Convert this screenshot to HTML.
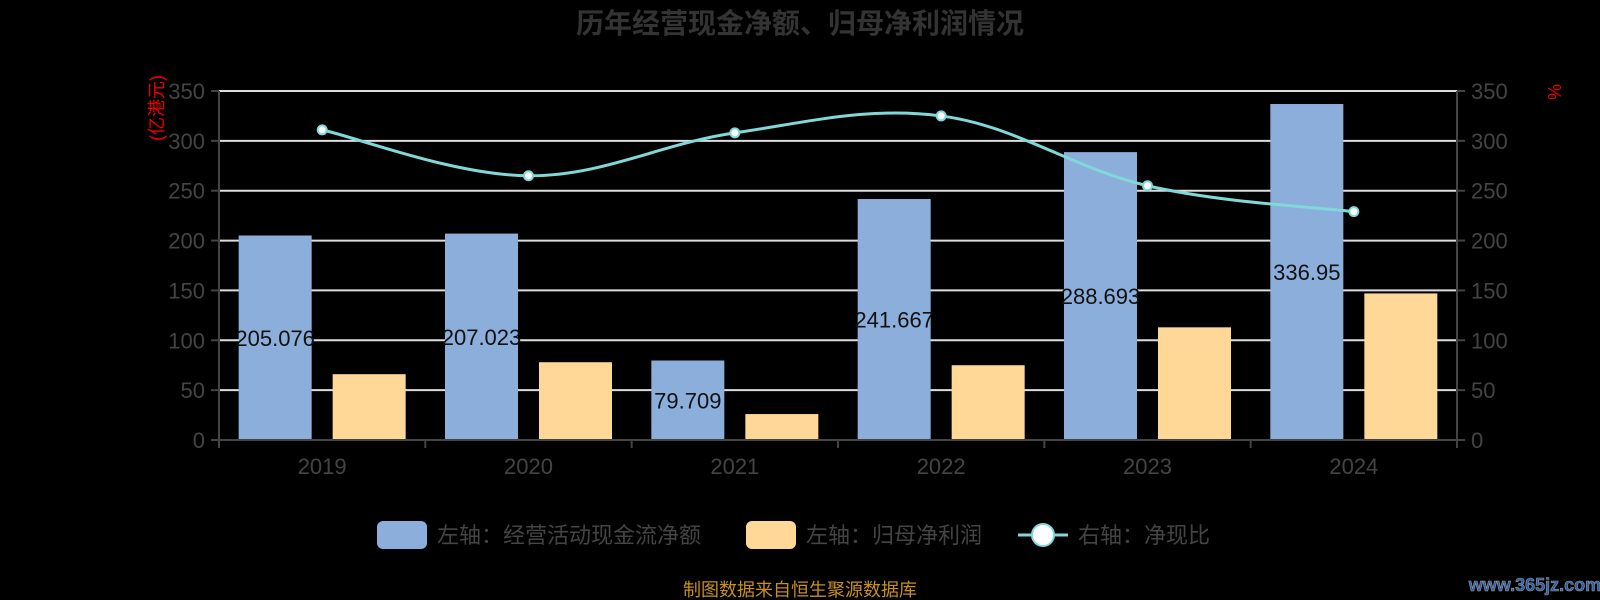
<!DOCTYPE html>
<html><head><meta charset="utf-8">
<style>
html,body{margin:0;padding:0;background:#000;width:1600px;height:600px;overflow:hidden}
svg text{font-family:"Liberation Sans","Noto Sans CJK SC",sans-serif}
</style></head>
<body>
<svg id="chart" width="1600" height="600" xmlns="http://www.w3.org/2000/svg">
<text x="800" y="33" text-anchor="middle" font-size="28" font-weight="bold" fill="#333">历年经营现金净额、归母净利润情况</text>
<g id="grid"></g>
<g id="bars"></g>
<g id="axes"></g>
<g id="line"></g>
<g id="labels"></g>
<text transform="translate(163,108) rotate(-90)" text-anchor="middle" font-size="18" fill="#e00">(亿港元)</text>
<text x="1547" y="98" font-size="18" fill="#e00" transform="rotate(-90 1555 92)">%</text>
<g>
 <g>
  <rect x="377" y="521" width="50" height="28" rx="6" fill="#8caedb"/>
  <text x="437" y="543" font-size="22" fill="#444">左轴：经营活动现金流净额</text>
 </g>
 <g>
  <rect x="746" y="521" width="50" height="28" rx="6" fill="#ffd898"/>
  <text x="806" y="543" font-size="22" fill="#444">左轴：归母净利润</text>
 </g>
 <g>
  <line x1="1018" y1="535" x2="1068" y2="535" stroke="#80d8d8" stroke-width="3"/>
  <circle cx="1043" cy="535" r="11" fill="#fff" stroke="#80d8d8" stroke-width="2"/>
  <text x="1078" y="543" font-size="22" fill="#444">右轴：净现比</text>
 </g>
</g>
<text x="800" y="596" text-anchor="middle" font-size="18" fill="#c8901a">制图数据来自恒生聚源数据库</text>
<text x="1535" y="591" text-anchor="middle" font-size="18" font-weight="bold" fill="#2a5db0" stroke="#999" stroke-width="0.6" font-family="Liberation Serif,serif">www.365jz.com</text>
</svg>
<script>
const categories = ["2019","2020","2021","2022","2023","2024"];
const cashFlow = [205.076,207.023,79.709,241.667,288.693,336.95];
const netProfit = [66,78,26,75,113,147];
const ratio = [311,265,308,325,255,229];
const yTicks = [0,50,100,150,200,250,300,350];

const NS="http://www.w3.org/2000/svg";
const X0=219,X1=1457,Y0=440,Y1=91,YMAX=350;
const band=(X1-X0)/categories.length;
function y(v){return Y0-(v/YMAX)*(Y0-Y1);}
function xc(i){return X0+band*(i+0.5);}
function mk(tag,attrs,parent,text){const e=document.createElementNS(NS,tag);for(const k in attrs)e.setAttribute(k,attrs[k]);if(text!==undefined)e.textContent=text;parent.appendChild(e);return e;}
const grid=document.getElementById('grid'),bars=document.getElementById('bars'),axes=document.getElementById('axes'),line=document.getElementById('line'),labels=document.getElementById('labels');

yTicks.forEach(t=>{
  if(t>0){const g=mk('line',{x1:X0,x2:X1,y1:y(t),y2:y(t),stroke:'#ddd','stroke-width':2},grid);
  
  }
  const l=mk('text',{x:X0-14,y:y(t)+8,'text-anchor':'end','font-size':22,fill:'#444'},axes,t);
  
  
  const r=mk('text',{x:X1+14,y:y(t)+8,'font-size':22,fill:'#444'},axes,t);
  
  
  mk('line',{x1:X0-8,x2:X0,y1:y(t),y2:y(t),stroke:'#444','stroke-width':2},axes);
  mk('line',{x1:X1,x2:X1+8,y1:y(t),y2:y(t),stroke:'#444','stroke-width':2},axes);
});
mk('line',{x1:X0,x2:X0,y1:Y1,y2:Y0,stroke:'#444','stroke-width':2},axes);
mk('line',{x1:X1,x2:X1,y1:Y1,y2:Y0,stroke:'#444','stroke-width':2},axes);
mk('line',{x1:X0,x2:X1,y1:Y0,y2:Y0,stroke:'#444','stroke-width':2},axes);
for(let i=0;i<=categories.length;i++){const xx=X0+band*i;mk('line',{x1:xx,x2:xx,y1:Y0,y2:Y0+8,stroke:'#444','stroke-width':2},axes);}

const BW=73,OFF=47;
categories.forEach((c,i)=>{
  const xl=mk('text',{x:xc(i),y:474,'text-anchor':'middle','font-size':22,fill:'#444'},axes,c);
  
  
  const b=mk('rect',{x:xc(i)-OFF-BW/2,y:y(cashFlow[i]),width:BW,height:Y0-y(cashFlow[i]),fill:'#8caedb'},bars);
  
  
  const o=mk('rect',{x:xc(i)+OFF-BW/2,y:y(netProfit[i]),width:BW,height:Y0-y(netProfit[i]),fill:'#ffd898'},bars);
  
  
  const t=mk('text',{x:xc(i)-OFF,y:(y(cashFlow[i])+Y0)/2+8,'text-anchor':'middle','font-size':22,fill:'#111'},labels,cashFlow[i]);
  
  
});

const pts=ratio.map((v,i)=>[xc(i),y(v)]);
let d='M'+pts[0][0]+','+pts[0][1];
const k=0.18;
for(let i=0;i<pts.length-1;i++){
  const p0=pts[i-1]||pts[i],p1=pts[i],p2=pts[i+1],p3=pts[i+2]||p2;
  const c1=[p1[0]+(p2[0]-p0[0])*k,p1[1]+(p2[1]-p0[1])*k];
  const c2=[p2[0]-(p3[0]-p1[0])*k,p2[1]-(p3[1]-p1[1])*k];
  d+=' C'+c1+' '+c2+' '+p2;
}
const path=mk('path',{d:d,fill:'none',stroke:'#80d8d8','stroke-width':3},line);


pts.forEach((p,i)=>{
  const c=mk('circle',{cx:p[0],cy:p[1],r:4.5,fill:'#fff',stroke:'#80d8d8','stroke-width':2},line);
  
  
});
</script>
</body></html>
